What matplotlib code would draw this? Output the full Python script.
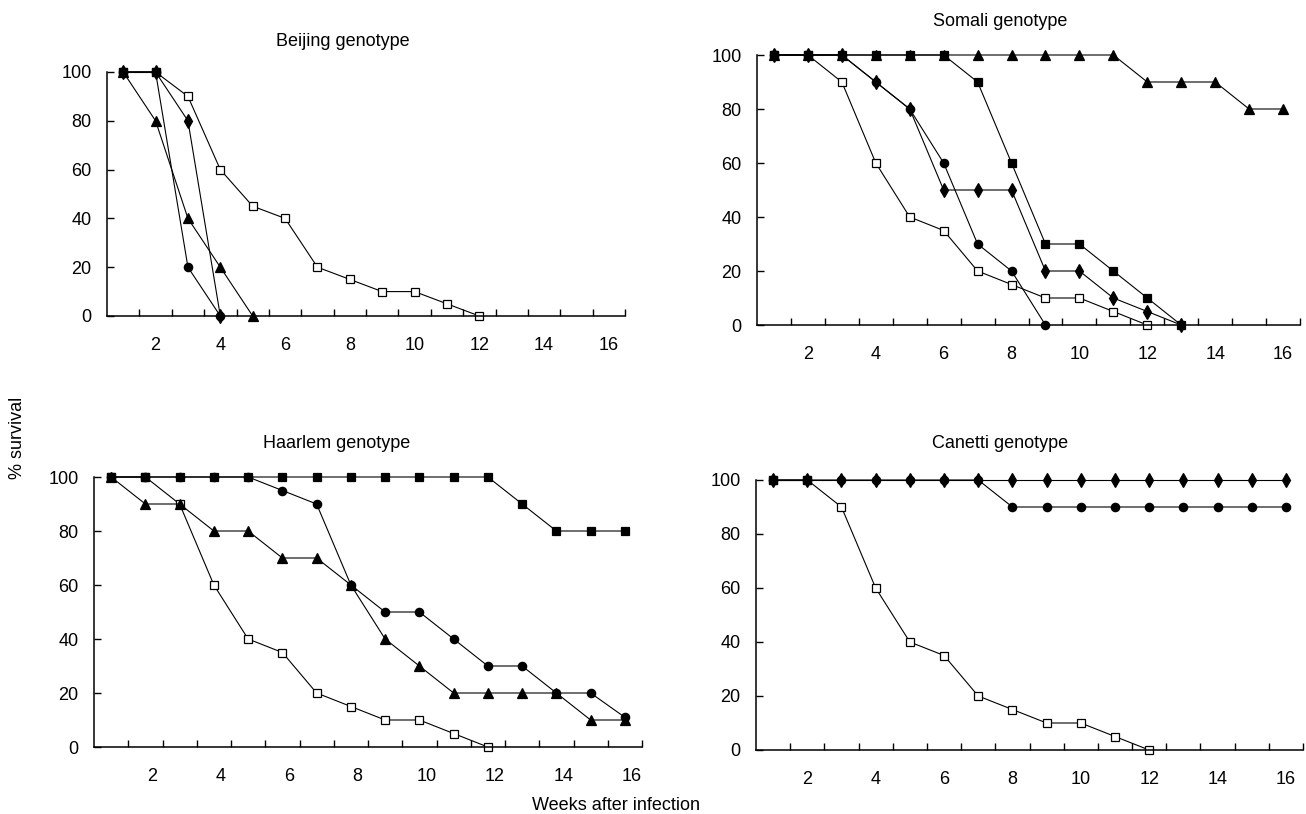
import matplotlib
matplotlib.use('Agg')
import matplotlib.pyplot as plt

plt.rcParams['font.family'] = ['Liberation Sans', 'DejaVu Sans']

# Weeks after infection (categories on the x axis)
weeks = list(range(1, 17))
week_labels = ['2', '4', '6', '8', '10', '12', '14', '16']

# Open squares: same control curve in every panel
control = [100, 100, 90, 60, 40, 35, 20, 15, 10, 10, 5, 0]
beijing_control = [100, 100, 90, 60, 45, 40, 20, 15, 10, 10, 5, 0]

# Beijing genotype
beijing_triangle = [100, 80, 40, 20, 0]
beijing_circle = [100, 100, 20, 0]
beijing_diamond = [100, 100, 80, 0]
beijing_square = [100, 100]

# Somali genotype
somali_triangle = [100, 100, 100, 100, 100, 100, 100, 100, 100, 100, 100, 90, 90, 90, 80, 80]
somali_circle = [100, 100, 100, 90, 80, 60, 30, 20, 0]
somali_diamond = [100, 100, 100, 90, 80, 50, 50, 50, 20, 20, 10, 5, 0]
somali_square = [100, 100, 100, 100, 100, 100, 90, 60, 30, 30, 20, 10, 0]

# Haarlem genotype
haarlem_triangle = [100, 90, 90, 80, 80, 70, 70, 60, 40, 30, 20, 20, 20, 20, 10, 10]
haarlem_circle = [100, 100, 100, 100, 100, 95, 90, 60, 50, 50, 40, 30, 30, 20, 20, 11]
haarlem_square = [100, 100, 100, 100, 100, 100, 100, 100, 100, 100, 100, 100, 90, 80, 80, 80]

# Canetti genotype
canetti_circle = [100, 100, 100, 100, 100, 100, 100, 90, 90, 90, 90, 90, 90, 90, 90, 90]
canetti_diamond = [100] * 16
canetti_square = [100, 100]

fig = plt.figure(figsize=(13.06, 8.14), dpi=100)
W, H = 1306.0, 814.0


def add_panel(box, title, title_xy, series, label_shift=0.0):
    # box is (left, top, right, bottom) in pixels
    l, t, r, b = box
    ax = fig.add_axes([l / W, 1 - b / H, (r - l) / W, (b - t) / H])
    for vals, marker, face, size in series:
        ax.plot(weeks[:len(vals)], vals, color='black', linewidth=0.8,
                marker=marker, markersize=size, markerfacecolor=face,
                markeredgecolor='black', markeredgewidth=0.9, clip_on=False)
    ax.set_xlim(0.5, 16.5)
    ax.set_ylim(0, 100)
    ax.spines['top'].set_visible(False)
    ax.spines['right'].set_visible(False)
    ax.spines['left'].set_linewidth(1.1)
    ax.spines['bottom'].set_linewidth(1.1)
    # tick marks sit between the weeks, labels sit on the even weeks
    ax.set_xticks([w + 0.5 for w in weeks])
    ax.set_xticklabels([])
    ax.set_xticks([int(s) + label_shift for s in week_labels], minor=True)
    ax.set_xticklabels(week_labels, minor=True)
    ax.tick_params(axis='x', which='major', direction='in', length=5, width=1)
    ax.tick_params(axis='x', which='minor', length=0, pad=15, labelsize=13)
    ax.set_yticks([0, 20, 40, 60, 80, 100])
    ax.tick_params(axis='y', direction='in', length=5, width=1, pad=11, labelsize=13)
    fig.text(title_xy[0] / W, 1 - title_xy[1] / H, title, ha='center', va='center',
             fontsize=13)
    return ax


add_panel((107, 72, 625, 316), 'Beijing genotype', (343, 41), [
    (beijing_control, 's', 'white', 6),
    (beijing_triangle, '^', 'black', 7),
    (beijing_circle, 'o', 'black', 6),
    (beijing_diamond, 'd', 'black', 7),
    (beijing_square, 's', 'black', 6),
])

add_panel((757, 55, 1300, 325), 'Somali genotype', (1000, 22), [
    (control, 's', 'white', 6),
    (somali_triangle, '^', 'black', 7),
    (somali_circle, 'o', 'black', 6),
    (somali_diamond, 'd', 'black', 7),
    (somali_square, 's', 'black', 6),
])

add_panel((94, 477, 642, 747), 'Haarlem genotype', (337, 443), [
    (control, 's', 'white', 6),
    (haarlem_triangle, '^', 'black', 7),
    (haarlem_circle, 'o', 'black', 6),
    (haarlem_square, 's', 'black', 6),
], label_shift=0.2)

add_panel((756, 480, 1303, 750), 'Canetti genotype', (1000, 443), [
    (control, 's', 'white', 6),
    (canetti_circle, 'o', 'black', 6),
    (canetti_diamond, 'd', 'black', 7),
    (canetti_square, 's', 'black', 6),
])

# Shared axis labels
fig.text(18 / W, 1 - 438 / H, '% survival', rotation=90, ha='center', va='center',
         fontsize=13)
fig.text(616 / W, 1 - 805 / H, 'Weeks after infection', ha='center', va='center',
         fontsize=13)

fig.savefig('out.png', dpi=100)
